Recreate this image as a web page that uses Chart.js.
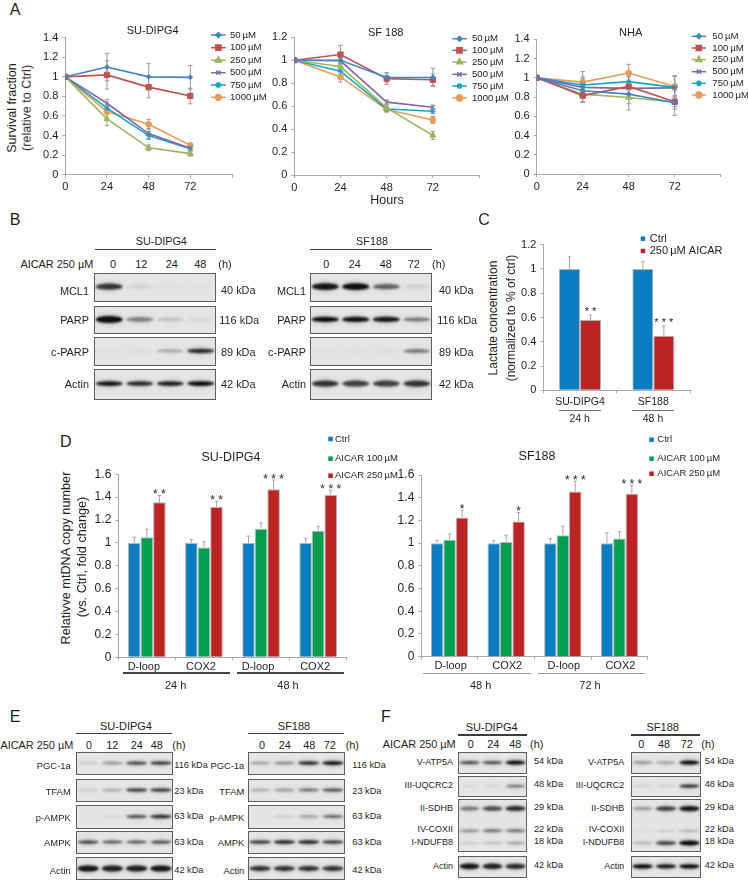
<!DOCTYPE html>
<html>
<head>
<meta charset="utf-8">
<title>AICAR figure</title>
<script src="https://cdn.jsdelivr.net/npm/chart.js@4"></script>
<style>
  html, body { margin: 0; padding: 0; background: #fff; }
  body { position: relative; width: 748px; height: 881px; overflow: hidden; font-family: "Liberation Sans", Arial, sans-serif; color: #231f20; }
  canvas { position: absolute; display: block; }
  .t { position: absolute; white-space: nowrap; line-height: 1; }
  .r { position: absolute; }
</style>
</head>
<body>
<script>
// panel A
const hours = [0, 24, 48, 72];
const doseLabels = ['50\u2009µM', '100\u2009µM', '250\u2009µM', '500\u2009µM', '750\u2009µM', '1000\u2009µM'];
const doseColors = ['#3f86c2', '#bf5350', '#9bb65c', '#8367a6', '#12a5c9', '#e89c58'];
const doseMarkers = ['rectRot', 'rect', 'triangle', 'crossRot', 'star', 'circle'];
const doseSizes = [2.4, 3.7, 3.5, 3, 3, 2.9];

const su50 = [1, 1.10, 1.0, 0.995];
const su100 = [1, 1.02, 0.895, 0.805];
const su250 = [1, 0.57, 0.275, 0.215];
const su500 = [1, 0.73, 0.42, 0.27];
const su750 = [1, 0.68, 0.40, 0.265];
const su1000 = [1, 0.645, 0.515, 0.30];
const suErr50 = [0, 0.14, 0.135, 0.12];
const suErr100 = [0, 0.145, 0.11, 0.08];
const suErr250 = [0, 0.07, 0.03, 0.025];
const suErr500 = [0, 0.04, 0.05, 0.02];
const suErr750 = [0, 0.04, 0.04, 0.02];
const suErr1000 = [0, 0.03, 0.05, 0.02];

const sf50 = [1, 1.0, 0.85, 0.85];
const sf100 = [1, 1.05, 0.84, 0.83];
const sf250 = [1, 0.945, 0.585, 0.345];
const sf500 = [1, 0.995, 0.635, 0.59];
const sf750 = [1, 0.905, 0.575, 0.555];
const sf1000 = [1, 0.855, 0.57, 0.48];
const sfErr50 = [0, 0.05, 0.04, 0.08];
const sfErr100 = [0, 0.08, 0.05, 0.05];
const sfErr250 = [0, 0.03, 0.03, 0.035];
const sfErr500 = [0, 0.03, 0.02, 0.02];
const sfErr750 = [0, 0.03, 0.02, 0.02];
const sfErr1000 = [0, 0.045, 0.02, 0.03];

const nha50 = [1, 0.865, 0.83, 0.74];
const nha100 = [1, 0.815, 0.91, 0.75];
const nha250 = [1, 0.83, 0.795, 0.745];
const nha500 = [1, 0.90, 0.89, 0.895];
const nha750 = [1, 0.925, 0.96, 0.90];
const nha1000 = [1, 0.955, 1.05, 0.91];
const nhaErr50 = [0, 0.07, 0.10, 0.13];
const nhaErr100 = [0, 0.07, 0.11, 0.05];
const nhaErr250 = [0, 0.08, 0.13, 0.07];
const nhaErr500 = [0, 0.11, 0.08, 0.12];
const nhaErr750 = [0, 0.07, 0.05, 0.12];
const nhaErr1000 = [0, 0.11, 0.09, 0.11];

// panel C
const lactateCats = ['SU-DIPG4', 'SF188'];
const lactateCtrl = [1, 1];
const lactateAicar = [0.58, 0.45];
const lactateCtrlErr = [0.10, 0.06];
const lactateAicarErr = [0.04, 0.08];
const lactateStars = ['* *', '* * *'];

// panel D
const mtCats = ['D-loop', 'COX2', 'D-loop', 'COX2'];
const mtSeries = ['Ctrl', 'AICAR 100\u2009µM', 'AICAR 250\u2009µM'];
const barColors = ['#0a7cc1', '#009e4f', '#bd2323'];

const mtSuCtrl = [1, 1, 1, 1];
const mtSu100 = [1.05, 0.96, 1.125, 1.105];
const mtSu250 = [1.355, 1.315, 1.47, 1.42];
const mtSuCtrlErr = [0.05, 0.03, 0.06, 0.04];
const mtSu100Err = [0.07, 0.05, 0.05, 0.04];
const mtSu250Err = [0.06, 0.05, 0.08, 0.04];
const mtSuStars = ['* *', '* *', '* * *', '* * *'];

const mtSfCtrl = [1, 1, 1, 1];
const mtSf100 = [1.03, 1.01, 1.07, 1.04];
const mtSf250 = [1.225, 1.19, 1.455, 1.435];
const mtSfCtrlErr = [0.025, 0.02, 0.04, 0.09];
const mtSf100Err = [0.05, 0.06, 0.08, 0.06];
const mtSf250Err = [0.065, 0.08, 0.09, 0.075];
const mtSfStars = ['*', '*', '* * *', '* * *'];

// blots, band darkness per lane
const bSuMcl1 = [0.75, 0.07, 0.025, 0.01];
const bSuParp = [1, 0.4, 0.13, 0.05];
const bSuCparp = [0.02, 0.04, 0.25, 0.8];
const bSuActin = [0.9, 0.8, 0.85, 0.95];
const bSfMcl1 = [0.9, 0.95, 0.55, 0.08];
const bSfParp = [0.95, 0.95, 0.9, 0.45];
const bSfCparp = [0.02, 0.03, 0.04, 0.45];
const bSfActin = [0.75, 0.7, 0.7, 0.75];

const eSuPgc = [0.12, 0.35, 0.7, 0.75];
const eSuTfam = [0.12, 0.25, 0.75, 0.75];
const eSuPampk = [0.02, 0.08, 0.65, 0.8];
const eSuAmpk = [0.7, 0.6, 0.6, 0.65];
const eSuActin = [0.9, 0.85, 0.85, 0.9];
const eSfPgc = [0.3, 0.4, 0.8, 0.98];
const eSfTfam = [0.25, 0.35, 0.5, 0.65];
const eSfPampk = [0.02, 0.1, 0.3, 0.55];
const eSfAmpk = [0.75, 0.85, 0.85, 0.75];
const eSfActin = [0.75, 0.75, 0.75, 0.75];

const fSuAtp = [0.65, 0.65, 0.98];
const fSuUqcrc = [0.05, 0.07, 0.5];
const fSuSdhb = [0.45, 0.65, 0.8];
const fSuCox = [0.35, 0.5, 0.5];
const fSuNduf = [0.12, 0.18, 0.3];
const fSuActin = [0.9, 0.85, 0.8];
const fSfAtp = [0.35, 0.3, 0.98];
const fSfUqcrc = [0.1, 0.1, 0.8];
const fSfSdhb = [0.3, 0.7, 0.9];
const fSfCox = [0.05, 0.12, 0.25];
const fSfNduf = [0.18, 0.65, 0.95];
const fSfActin = [0.95, 0.9, 0.95];

const INK = '#231f20';
const FONT = '"Liberation Sans", Arial, sans-serif';

function text(str, x, y, size = 11, align = 'center', rotate = false) {
  const d = document.createElement('div');
  d.className = 't';
  d.textContent = str;
  d.style.left = x + 'px';
  d.style.top = y + 'px';
  d.style.fontSize = size + 'px';
  const tx = align === 'center' ? '-50%' : align === 'right' ? '-100%' : '0';
  d.style.transform = `translate(${tx},-50%)` + (rotate ? ' rotate(-90deg)' : '');
  document.body.appendChild(d);
}

function rule(x1, x2, y, h = 1.5, color = '#3c3c3c') {
  const d = document.createElement('div');
  d.className = 'r';
  d.style.cssText = `left:${x1}px;top:${y - h / 2}px;width:${x2 - x1}px;height:${h}px;background:${color}`;
  document.body.appendChild(d);
}

function makeCanvas(left, top, width, height) {
  const c = document.createElement('canvas');
  c.width = Math.ceil(width);
  c.height = Math.ceil(height);
  c.style.left = left + 'px';
  c.style.top = top + 'px';
  c.style.width = c.width + 'px';
  c.style.height = c.height + 'px';
  document.body.appendChild(c);
  return c;
}

// error bars and significance stars, read from the dataset
const errorBars = {
  id: 'errorBars',
  beforeDatasetsDraw(chart) {
    const { ctx, scales: { y } } = chart;
    chart.data.datasets.forEach((ds, k) => {
      if (!ds.err || chart.config.type !== 'scatter') return;
      drawErr(ctx, chart.getDatasetMeta(k), ds, y, true, '#9a9a9a', 2.2);
    });
  },
  afterDatasetsDraw(chart) {
    const { ctx, scales: { y } } = chart;
    chart.data.datasets.forEach((ds, k) => {
      if (!ds.err || chart.config.type !== 'bar') return;
      const meta = chart.getDatasetMeta(k);
      drawErr(ctx, meta, ds, y, false, '#a8a8a8', 1.8);
      if (!ds.stars) return;
      ctx.save();
      ctx.fillStyle = INK;
      ctx.font = `${ds.starSize}px ${FONT}`;
      ctx.textAlign = 'center';
      ctx.textBaseline = 'alphabetic';
      meta.data.forEach((el, i) => {
        ctx.fillText(ds.stars[i], el.x, y.getPixelForValue(ds.data[i] + ds.err[i]) + ds.starDrop);
      });
      ctx.restore();
    });
  }
};

function drawErr(ctx, meta, ds, y, both, color, cap) {
  ctx.save();
  ctx.strokeStyle = color;
  ctx.lineWidth = 1;
  meta.data.forEach((el, i) => {
    const e = ds.err[i];
    if (!e) return;
    const v = both ? ds.data[i].y : ds.data[i];
    const top = y.getPixelForValue(v + e);
    const bot = both ? y.getPixelForValue(v - e) : y.getPixelForValue(v);
    ctx.beginPath();
    ctx.moveTo(el.x, top);
    ctx.lineTo(el.x, bot);
    ctx.moveTo(el.x - cap, top);
    ctx.lineTo(el.x + cap, top);
    if (both) {
      ctx.moveTo(el.x - cap, bot);
      ctx.lineTo(el.x + cap, bot);
    }
    ctx.stroke();
  });
  ctx.restore();
}

// legend in page coordinates, the figure's legends do not sit in a regular box
function pageLegend(cfg, offX, offY) {
  return {
    id: 'pageLegend',
    afterDraw(chart) {
      const ctx = chart.ctx;
      ctx.save();
      ctx.font = `${cfg.size}px ${FONT}`;
      ctx.textBaseline = 'middle';
      ctx.textAlign = 'left';
      chart.data.datasets.forEach((ds, i) => {
        const y = cfg.ys[i] - offY;
        if (cfg.square) {
          ctx.fillStyle = ds.backgroundColor;
          ctx.fillRect(cfg.x0 - offX, y - cfg.square / 2, cfg.square, cfg.square);
        } else {
          ctx.strokeStyle = ds.borderColor;
          ctx.fillStyle = ds.borderColor;
          ctx.lineWidth = 1.5;
          ctx.beginPath();
          ctx.moveTo(cfg.x0 - offX, y);
          ctx.lineTo(cfg.x1 - offX, y);
          ctx.stroke();
          Chart.helpers.drawPoint(ctx, { pointStyle: ds.pointStyle, radius: ds.pointRadius, rotation: 0, borderWidth: 1 }, (cfg.x0 + cfg.x1) / 2 - offX, y);
        }
        ctx.fillStyle = INK;
        ctx.fillText(ds.label, cfg.tx - offX, y);
      });
      ctx.restore();
    }
  };
}

function axisOpts(fontSize, extra) {
  return Object.assign({
    border: { color: '#a9a9a9', width: 1 },
    grid: { drawOnChartArea: false, drawTicks: true, tickLength: 3, tickColor: '#a9a9a9', tickWidth: 1 },
    ticks: { color: INK, font: { family: FONT, size: fontSize }, padding: 3, maxRotation: 0, autoSkip: false }
  }, extra);
}

// place a chart so that its plot area lands on a given box of the page
function placedChart(box, margins, type, labels, datasets, legend, yMax, yFont, xOpts) {
  const [x0, y0, x1, y1] = box;
  const [ml, mt, mr, mb] = margins;
  const left = Math.floor(x0) - ml;
  const top = Math.floor(y0) - mt;
  const canvas = makeCanvas(left, top, x1 - left + mr, y1 - top + mb);
  const yAxis = axisOpts(yFont, { min: 0, max: yMax, afterFit: s => { s.width = x0 - left; } });
  yAxis.ticks = Object.assign({}, yAxis.ticks, {
    stepSize: 0.2,
    padding: 4,
    callback: v => String(Number(v.toFixed(1)))
  });
  const xAxis = Object.assign(xOpts, { afterFit: s => { s.height = canvas.height - (y1 - top); } });
  return new Chart(canvas.getContext('2d'), {
    type,
    data: { labels, datasets },
    options: {
      responsive: false,
      animation: false,
      layout: { padding: { top: y0 - top, right: canvas.width - (x1 - left), left: 0, bottom: 0 } },
      plugins: { legend: { display: false }, tooltip: { enabled: false } },
      scales: { x: xAxis, y: yAxis }
    },
    plugins: [errorBars, pageLegend(legend, left, top)]
  });
}

function doseChart(box, margins, yMax, series, errs, legend) {
  const datasets = series.map((vals, i) => ({
    label: doseLabels[i],
    data: vals.map((v, j) => ({ x: hours[j], y: v })),
    err: errs[i],
    showLine: true,
    borderColor: doseColors[i],
    backgroundColor: doseColors[i],
    borderWidth: 1.6,
    pointStyle: doseMarkers[i],
    pointRadius: doseSizes[i],
    pointBorderWidth: 1,
    pointBorderColor: doseColors[i],
    pointBackgroundColor: doseColors[i]
  }));
  const xAxis = axisOpts(11, { type: 'linear', min: 0, max: 96 });
  xAxis.ticks = Object.assign({}, xAxis.ticks, { stepSize: 24, callback: v => (v === 96 ? '' : String(v)) });
  return placedChart(box, margins, 'scatter', undefined, datasets, legend, yMax, 11, xAxis);
}

function barChart(box, margins, labels, names, vals, errs, starsList, cat, starSize, starDrop, legend, yFont, xFont, labelOffset, xPad) {
  const datasets = vals.map((v, i) => ({
    label: names[i],
    data: v,
    err: errs[i],
    stars: starsList[i],
    starSize,
    starDrop,
    backgroundColor: barColors[i === 1 && vals.length === 2 ? 2 : i],
    borderColor: '#b4b4b4',
    borderWidth: 1,
    barPercentage: 1,
    categoryPercentage: cat
  }));
  const xAxis = axisOpts(xFont, {});
  xAxis.ticks = Object.assign({}, xAxis.ticks, { labelOffset, padding: xPad });
  return placedChart(box, margins, 'bar', labels, datasets, legend, vals.length === 2 ? 1.2 : 1.6, yFont, xAxis);
}

// one membrane: chart with hidden axes, lanes on x and row height on y
const gel = {
  id: 'gel',
  beforeDraw(chart) {
    const { ctx, width, height } = chart;
    ctx.save();
    ctx.fillStyle = '#e5e5e7';
    ctx.fillRect(0, 0, width, height);
    ctx.restore();
  },
  afterDatasetsDraw(chart) {
    const { ctx, width, height, scales: { x } } = chart;
    const laneW = x.getPixelForValue(1) - x.getPixelForValue(0);
    ctx.save();
    chart.data.datasets.forEach((ds, k) => {
      chart.getDatasetMeta(k).data.forEach((el, i) => {
        const a = ds.levels[i];
        const w = laneW * 0.44;
        const h = ds.bandH * (0.5 + 0.5 * a);
        ctx.filter = 'blur(2px)';
        ctx.fillStyle = `rgba(30,30,34,${a * 0.2})`;
        ctx.beginPath();
        ctx.ellipse(el.x, el.y, w, h / 2 + 1.5, 0, 0, Math.PI * 2);
        ctx.fill();
        ctx.filter = 'blur(0.8px)';
        ctx.fillStyle = `rgba(12,12,14,${Math.min(1, a * 1.05)})`;
        ctx.beginPath();
        ctx.ellipse(el.x, el.y, w, h / 2, 0, 0, Math.PI * 2);
        ctx.fill();
      });
    });
    ctx.filter = 'none';
    ctx.strokeStyle = '#5e5e5e';
    ctx.lineWidth = 1;
    ctx.strokeRect(0.5, 0.5, width - 1, height - 1);
    ctx.restore();
  }
};

function blot(x0, y0, x1, y1, rows) {
  const left = Math.round(x0);
  const top = Math.round(y0);
  const canvas = makeCanvas(left, top, Math.round(x1) - left, Math.round(y1) - top);
  const lanes = rows[0][0].length;
  return new Chart(canvas.getContext('2d'), {
    type: 'scatter',
    data: {
      datasets: rows.map(([levels, rowY, bandH]) => ({
        data: levels.map((_, i) => ({ x: i + 0.5, y: rowY })),
        levels,
        bandH,
        pointRadius: 0
      }))
    },
    options: {
      responsive: false,
      animation: false,
      plugins: { legend: { display: false }, tooltip: { enabled: false } },
      scales: {
        x: { display: false, min: 0, max: lanes },
        y: { display: false, min: 0, max: 1, reverse: true }
      }
    },
    plugins: [gel]
  });
}

// ---- A ----
const doseM = [36, 14, 40, 24];
doseChart([65.3, 37.7, 232, 174.7], doseM, 1.4,
  [su50, su100, su250, su500, su750, su1000],
  [suErr50, suErr100, suErr250, suErr500, suErr750, suErr1000],
  { x0: 211, x1: 225.7, tx: 230, size: 9.6, ys: [35, 47.7, 60.3, 72.7, 85, 97.3] });
doseChart([294.3, 37.3, 479, 175], doseM, 1.2,
  [sf50, sf100, sf250, sf500, sf750, sf1000],
  [sfErr50, sfErr100, sfErr250, sfErr500, sfErr750, sfErr1000],
  { x0: 452.3, x1: 466.7, tx: 472, size: 9.6, ys: [38.7, 50.3, 62, 74.3, 86, 98] });
doseChart([536.7, 39.3, 720.7, 174], doseM, 1.4,
  [nha50, nha100, nha250, nha500, nha750, nha1000],
  [nhaErr50, nhaErr100, nhaErr250, nhaErr500, nhaErr750, nhaErr1000],
  { x0: 691.7, x1: 706, tx: 712.3, size: 9.6, ys: [36.3, 48, 59.7, 71.7, 83.3, 95] });

// ---- C ----
barChart([543.3, 244.7, 690, 390.3], [36, 14, 40, 16], lactateCats,
  ['Ctrl', '250\u2009µM AICAR'],
  [lactateCtrl, lactateAicar], [lactateCtrlErr, lactateAicarErr], [null, lactateStars],
  0.573, 11, 0,
  { square: 4.5, x0: 640.7, tx: 649.7, size: 11, ys: [238.7, 251] }, 11, 10.5, 0, 3);

// ---- D ----
barChart([118.3, 474.3, 346.7, 657.3], [36, 42, 55, 16], mtCats, mtSeries,
  [mtSuCtrl, mtSu100, mtSu250], [mtSuCtrlErr, mtSu100Err, mtSu250Err], [null, null, mtSuStars],
  0.66, 12, 3,
  { square: 4.5, x0: 328.3, tx: 335, size: 9.5, ys: [439, 458.7, 475.7] }, 12, 11, -3, 0);
barChart([421.3, 475, 647.7, 656.7], [36, 42, 75, 16], mtCats, mtSeries,
  [mtSfCtrl, mtSf100, mtSf250], [mtSfCtrlErr, mtSf100Err, mtSf250Err], [null, null, mtSfStars],
  0.66, 12, 3,
  { square: 4.5, x0: 649.3, tx: 657.3, size: 9.5, ys: [439.7, 458.7, 473.7] }, 12, 11, 1, 0);

// ---- blots B ----
blot(94.3, 272.7, 216.3, 302.3, [[bSuMcl1, 0.47, 7]]);
blot(94.3, 306, 216.3, 334.3, [[bSuParp, 0.48, 7]]);
blot(94.3, 337.3, 216.3, 365.7, [[bSuCparp, 0.48, 5]]);
blot(94.3, 369.3, 216.3, 400, [[bSuActin, 0.47, 5]]);
blot(310.3, 272.7, 432.3, 302.3, [[bSfMcl1, 0.47, 7]]);
blot(310.3, 306, 432.3, 334.3, [[bSfParp, 0.48, 5.5]]);
blot(310.3, 337.3, 432.3, 365.7, [[bSfCparp, 0.48, 5]]);
blot(310.3, 369.3, 432.3, 400, [[bSfActin, 0.47, 7]]);

// ---- blots E ----
const eRows = [[751.7, 775.3], [779, 802.3], [804.7, 828.7], [831, 854], [857.3, 880.3]];
[eSuPgc, eSuTfam, eSuPampk, eSuAmpk, eSuActin].forEach((lv, i) => {
  blot(75.7, eRows[i][0], 173, eRows[i][1], [[lv, i === 4 ? 0.5 : 0.48, i === 4 ? 6.5 : 3.8]]);
});
[eSfPgc, eSfTfam, eSfPampk, eSfAmpk, eSfActin].forEach((lv, i) => {
  blot(247.7, eRows[i][0], 345, eRows[i][1], [[lv, i === 4 ? 0.5 : 0.48, i === 4 ? 6 : 3.8]]);
});

// ---- blots F ----
blot(457.7, 751.7, 527.3, 774.3, [[fSuAtp, 0.48, 4]]);
blot(457.7, 776.3, 527.3, 797, [[fSuUqcrc, 0.48, 3.5]]);
blot(457.7, 799, 527.3, 852.3, [[fSuSdhb, 0.18, 5.5], [fSuCox, 0.6, 4], [fSuNduf, 0.83, 3.5]]);
blot(457.7, 856.3, 527.3, 878.3, [[fSuActin, 0.47, 6]]);
blot(630.7, 751.7, 700.7, 774.3, [[fSfAtp, 0.48, 4]]);
blot(630.7, 776.3, 700.7, 797, [[fSfUqcrc, 0.48, 3.5]]);
blot(630.7, 799, 700.7, 852.3, [[fSfSdhb, 0.18, 5.5], [fSfCox, 0.6, 3], [fSfNduf, 0.83, 5]]);
blot(630.7, 856.3, 700.7, 878.3, [[fSfActin, 0.47, 4.5]]);

// ---- page text ----
[['A', 15, 10], ['B', 15, 220], ['C', 484, 220], ['D', 65.7, 441.7], ['E', 15, 716.7], ['F', 386, 716.7]]
  .forEach(([s, x, y]) => text(s, x, y, 16));

text('SU-DIPG4', 152.7, 30, 11);
text('SF 188', 385.7, 32, 11);
text('NHA', 630.7, 31.7, 11);
text('Hours', 387, 200, 12.5);
text('Survival fraction', 11.7, 108, 12.6, 'center', true);
text('(relative to Ctrl)', 26.7, 108, 12.6, 'center', true);

text('Lactate concentration', 493, 318, 12, 'center', true);
text('(normalized to % of ctrl)', 511, 318, 12, 'center', true);
rule(559, 600.7, 410, 1, '#777');
rule(632, 674, 410, 1, '#777');
text('24 h', 579.7, 417.7, 10.5);
text('48 h', 653, 417.7, 10.5);

text('SU-DIPG4', 231, 456.7, 12.5);
text('SF188', 537, 456, 12.5);
text('Relativve mtDNA copy number', 66, 558, 12.7, 'center', true);
text('(vs. Ctrl, fold change)', 81.7, 557, 12.7, 'center', true);
rule(122.7, 230, 673, 1.2, '#444');
rule(237.3, 344.3, 673, 1.2, '#444');
rule(423.3, 530.7, 673.7, 1.6, '#999');
rule(538, 645, 673.7, 1.6, '#999');
text('24 h', 175.7, 684.7, 11);
text('48 h', 288, 684.7, 11);
text('48 h', 480.7, 685, 11);
text('72 h', 590, 685, 11);

// B headers
const aicar = 'AICAR 250 µM';
text('SU-DIPG4', 161.3, 240.7, 10.8);
text('SF188', 372, 240.7, 10.8);
rule(94.7, 215.7, 249.7, 1.6);
rule(310.3, 432, 249.7, 1.6);
text(aicar, 93.3, 264.3, 10.9, 'right');
[['0', 113], ['12', 141.3], ['24', 171.7], ['48', 200.3], ['(h)', 225], ['0', 326.3], ['24', 354.7], ['48', 385.7], ['72', 413.7], ['(h)', 438.7]]
  .forEach(([s, x]) => text(s, x, 264.3, 10.9));
[['MCL1', 291], ['PARP', 320], ['c-PARP', 352], ['Actin', 384.3]].forEach(([s, y]) => {
  text(s, 89, y, 10.9, 'right');
  text(s, 306, y, 10.9, 'right');
});
[['40 kDa', 221, 289.7], ['116 kDa', 219.3, 320], ['89 kDa', 221, 352], ['42 kDa', 221, 384.3]].forEach(([s, x, y]) => {
  text(s, x, y, 10.9, 'left');
  text(s, x + 218, y, 10.9, 'left');
});

// E headers
text('SU-DIPG4', 126, 726.3, 11);
text('SF188', 294, 726.3, 11);
rule(76, 172.3, 733.7, 1.4);
rule(248, 344, 733.7, 1.4);
text(aicar, 73.3, 745, 10.9, 'right');
[['0', 89], ['12', 112.3], ['24', 136.7], ['48', 156.7], ['(h)', 179], ['0', 262], ['24', 284.7], ['48', 309.3], ['72', 329.7], ['(h)', 352.3]]
  .forEach(([s, x]) => text(s, x, 745, 10.9));
[['PGC-1a', 765.7], ['TFAM', 791.7], ['p-AMPK', 817.7], ['AMPK', 843.3], ['Actin', 871]].forEach(([s, y]) => {
  text(s, 70.7, y, 9.4, 'right');
  text(s, 244.3, y, 9.4, 'right');
});
[['116 kDa', 765.7], ['23 kDa', 792], ['63 kDa', 816.5], ['63 kDa', 843.3], ['42 kDa', 871]].forEach(([s, y]) => {
  text(s, 174.3, y, 9.2, 'left');
  text(s, 352.3, y, 9.2, 'left');
});

// F headers
text('SU-DIPG4', 491.7, 727.3, 11);
text('SF188', 662.7, 727.3, 11);
rule(458.3, 527.3, 735, 1.4);
rule(631.3, 700, 735, 1.4);
text(aicar, 455.7, 744.3, 10.9, 'right');
[['0', 470.7], ['24', 493.3], ['48', 515.3], ['(h)', 536.7], ['0', 641.3], ['48', 664], ['72', 686.7], ['(h)', 708]]
  .forEach(([s, x]) => text(s, x, 744.3, 10.9));
[['V-ATP5A', 761.7], ['III-UQCRC2', 785], ['II-SDHB', 807.7], ['IV-COXII', 829], ['I-NDUFB8', 841.7], ['Actin', 866.3]].forEach(([s, y]) => {
  text(s, 453, y, 9, 'right');
  text(s, 624.3, y, 9, 'right');
});
[['54 kDa', 761.7], ['48 kDa', 785], ['29 kDa', 808], ['22 kDa', 830.3], ['18 kDa', 841.7], ['42 kDa', 866.3]].forEach(([s, y]) => {
  text(s, 534, y, 9.2, 'left');
  text(s, 704.7, y, 9.2, 'left');
});
</script>
</body>
</html>
